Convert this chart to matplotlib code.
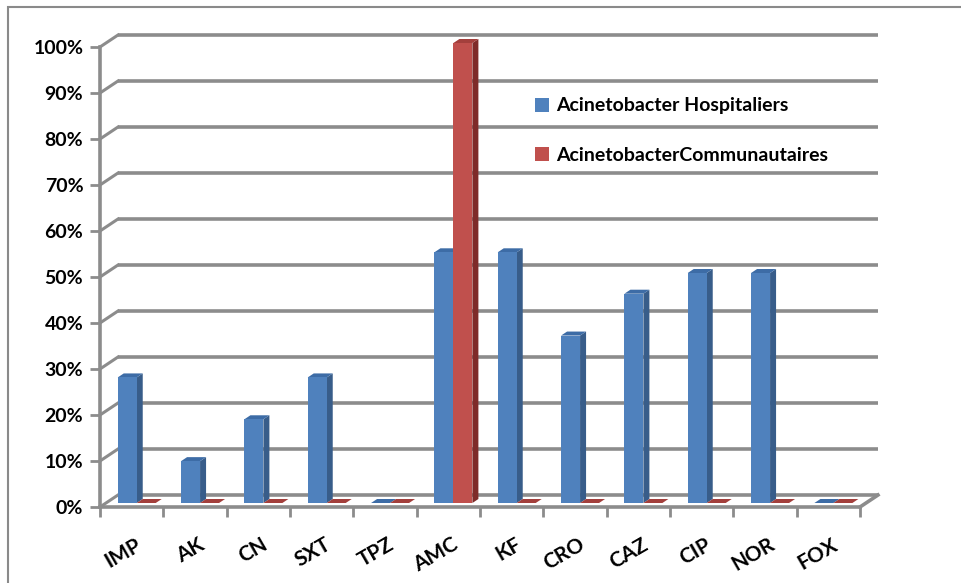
import matplotlib
matplotlib.use("Agg")
import matplotlib.pyplot as plt
from matplotlib.patches import Polygon, Rectangle, Patch
import matplotlib.transforms as mtransforms
import numpy as np

categories = ["IMP", "AK", "CN", "SXT", "TPZ", "AMC", "KF", "CRO", "CAZ", "CIP", "NOR", "FOX"]
hospitaliers = [27.3, 9.1, 18.2, 27.3, 0.0, 54.5, 54.5, 36.4, 45.5, 50.0, 50.0, 0.0]
communautaires = [0.0, 0.0, 0.0, 0.0, 0.0, 100.0, 0.0, 0.0, 0.0, 0.0, 0.0, 0.0]
series_names = ["Acinetobacter Hospitaliers", "AcinetobacterCommunautaires"]
yticks = [0, 10, 20, 30, 40, 50, 60, 70, 80, 90, 100]
ytick_labels = [f"{v}%" for v in yticks]

W, H = 962, 583
fig = plt.figure(figsize=(W / 100, H / 100), dpi=100)
FONT = "Lato"

# axes: front plane x 100..860 px, y 0% at 507 px, 100% at 47 px
x0, x1 = 100, 860
y0, y1 = 507, 47
ax = fig.add_axes([x0 / W, (H - y0) / H, (x1 - x0) / W, (y0 - y1) / H])
n = len(categories)
ax.set_xlim(-0.5, n - 0.5)
ax.set_ylim(0, 100)

pxx = (x1 - x0) / n          # px per category
pxy = (y0 - y1) / 100.0      # px per percent

def dx(px):
    return px / pxx

def dy(px):
    return px / pxy

grid_c = "#8c8c8c"
# back wall offset
wx, wy = dx(18), dy(12)

for v in yticks:
    ax.plot([-0.5 + wx, n - 0.5 + wx], [v + wy, v + wy], color=grid_c, lw=2.6,
            solid_capstyle="butt", clip_on=False, zorder=1)
    ax.plot([-0.5, -0.5 + wx], [v, v + wy], color=grid_c, lw=2.2,
            clip_on=False, zorder=1)
ax.plot([-0.5, n - 0.5], [0, 0], color=grid_c, lw=2.6, clip_on=False, zorder=1)
ax.plot([n - 0.5, n - 0.5 + wx], [0, wy], color=grid_c, lw=2.6, clip_on=False, zorder=1)
ax.plot([-0.5, -0.5], [0, 100], color=grid_c, lw=2.6, clip_on=False, zorder=1)

# bars
bw = 0.30
offsets = [-0.07, 0.23]
colors = [("#4F81BD", "#385D8A", "#3D6CA6"), ("#C0504D", "#7E2B29", "#A33F3C")]
bx, by = dx(6), dy(4)
base = dy(4)
for s, vals in enumerate([hospitaliers, communautaires]):
    front, side, top = colors[s]
    for i, v in enumerate(vals):
        xl = i + offsets[s] - bw / 2
        xr = xl + bw
        yb = base
        yt = base + v
        ax.add_patch(Polygon([(xr, yb), (xr + bx, yb + by), (xr + bx, yt + by), (xr, yt)],
                             closed=True, facecolor=side, edgecolor="none", zorder=3, clip_on=False))
        ax.add_patch(Polygon([(xl, yt), (xr, yt), (xr + bx, yt + by), (xl + bx, yt + by)],
                             closed=True, facecolor=top, edgecolor="none", zorder=3, clip_on=False))
    ax.bar([i + offsets[s] for i in range(n)], vals, width=bw, bottom=base,
           color=front, edgecolor="none", zorder=4, clip_on=False)

for sp in ax.spines.values():
    sp.set_visible(False)

ax.set_yticks(yticks)
ax.set_yticklabels(ytick_labels, fontsize=14, fontweight="bold", family=FONT)
ax.tick_params(axis="y", length=7, width=2, color=grid_c, pad=5)

ax.set_xticks(range(n))
ax.set_xticklabels(categories, fontsize=15, fontweight="bold", family=FONT,
                   rotation=30, ha="right", rotation_mode="anchor", va="center")
ax.set_xticks(np.arange(-0.5, n, 1.0), minor=True)
ax.tick_params(axis="x", which="major", length=0, pad=26)
ax.tick_params(axis="x", which="minor", length=7, width=2, color=grid_c)
for lbl in ax.get_xticklabels():
    lbl.set_transform(lbl.get_transform() + mtransforms.Affine2D().translate(8, 0))

handles = [Patch(facecolor=colors[0][0]), Patch(facecolor=colors[1][0])]
fig.legend(handles, series_names, loc="upper left", bbox_to_anchor=(518 / W, 1 - 80 / H),
           frameon=False, prop={"family": FONT, "weight": "bold", "size": 14},
           handlelength=0.7, handleheight=0.7, handletextpad=0.35, labelspacing=1.65)

fig.add_artist(Rectangle((8 / W, -0.05), 1.1, 1 - 7 / H + 0.05, transform=fig.transFigure,
                         fill=False, edgecolor="#8a8a8a", lw=1.5))

fig.savefig("out.png", dpi=100)
